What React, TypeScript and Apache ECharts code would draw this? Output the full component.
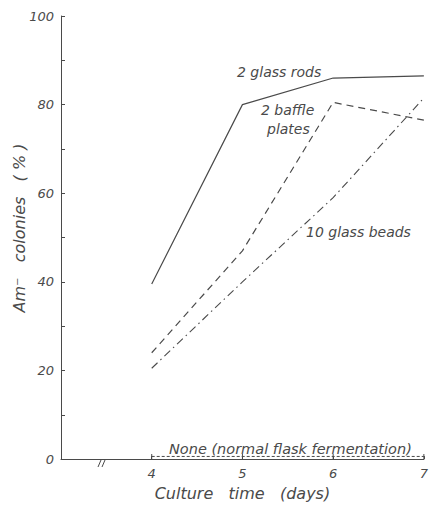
import React, { useEffect, useRef } from "react";
import * as echarts from "echarts";

// Culture time (days)
const days = [4, 5, 6, 7];
// Am- colonies (%) for each agitation device
const glassRods = [39.5, 80, 86, 86.5];
const bafflePlates = [24, 47, 80.5, 76.5];
const glassBeads = [20.5, 40, 59, 81.5];
const noneNormal = [0.6, 0.6, 0.6, 0.6];

const yTicks = [0, 20, 40, 60, 80, 100];

const INK = "#4a4a4a";
const FONT = "DejaVu Sans";

const pairs = (ys: number[]) => days.map((d, i) => [d, ys[i]]);

export default function App() {
  const ref = useRef<HTMLDivElement>(null);

  useEffect(() => {
    if (!ref.current) return;
    const chart = echarts.init(ref.current, null, { renderer: "svg" });

    const textStyle = {
      fontFamily: FONT,
      fontStyle: "italic" as const,
      fontSize: 14,
      fill: INK,
    };

    chart.setOption({
      animation: false,
      backgroundColor: "#ffffff",
      grid: { left: 61, right: 4, top: 16, bottom: 42, containLabel: false },
      xAxis: {
        type: "value",
        min: 3,
        max: 7,
        interval: 1,
        name: "Culture   time   (days)",
        nameLocation: "middle",
        nameGap: 24,
        nameTextStyle: {
          fontFamily: FONT,
          fontStyle: "italic",
          fontSize: 16,
          color: INK,
        },
        axisLine: { show: true, lineStyle: { color: INK, width: 1 } },
        axisTick: { show: true, inside: true, length: 3, lineStyle: { color: INK } },
        axisLabel: {
          show: true,
          margin: 8,
          fontFamily: FONT,
          fontStyle: "italic",
          fontSize: 13,
          color: INK,
          formatter: (v: number) => (days.includes(v) ? String(v) : ""),
        },
        splitLine: { show: false },
      },
      yAxis: {
        type: "value",
        min: 0,
        max: 100,
        interval: 20,
        axisLine: { show: true, lineStyle: { color: INK, width: 1 } },
        axisTick: { show: true, inside: true, length: 4, lineStyle: { color: INK } },
        minorTick: { show: true, splitNumber: 2, length: 4, lineStyle: { color: INK } },
        axisLabel: {
          show: true,
          margin: 7,
          fontFamily: FONT,
          fontStyle: "italic",
          fontSize: 13,
          color: INK,
          formatter: (v: number) => (yTicks.includes(v) ? String(v) : ""),
        },
        splitLine: { show: false },
      },
      series: [
        {
          name: "2 glass rods",
          type: "line",
          data: pairs(glassRods),
          symbol: "none",
          lineStyle: { color: INK, width: 1.2, type: "solid" },
        },
        {
          name: "2 baffle plates",
          type: "line",
          data: pairs(bafflePlates),
          symbol: "none",
          lineStyle: { color: INK, width: 1.2, type: [7, 5] },
        },
        {
          name: "10 glass beads",
          type: "line",
          data: pairs(glassBeads),
          symbol: "none",
          lineStyle: { color: INK, width: 1.1, type: [8, 4, 1.5, 4] },
        },
        {
          name: "None (normal flask fermentation)",
          type: "line",
          data: pairs(noneNormal),
          symbol: "rect",
          symbolSize: [1, 5],
          itemStyle: { color: INK },
          lineStyle: { color: INK, width: 1, type: [3, 2] },
        },
      ],
      graphic: [
        // y-axis title
        {
          type: "text",
          x: 19,
          y: 228,
          rotation: Math.PI / 2,
          style: {
            ...textStyle,
            fontSize: 16,
            text: "Am⁻   colonies   ( % )",
            align: "center",
            verticalAlign: "middle",
          },
        },
        // axis break marks
        {
          type: "line",
          shape: { x1: 98, y1: 467, x2: 101, y2: 460 },
          style: { stroke: INK, lineWidth: 1 },
        },
        {
          type: "line",
          shape: { x1: 102, y1: 467, x2: 105, y2: 460 },
          style: { stroke: INK, lineWidth: 1 },
        },
        {
          type: "text",
          left: 237,
          top: 65,
          style: { ...textStyle, text: "2 glass rods" },
        },
        {
          type: "text",
          left: 261,
          top: 103,
          style: { ...textStyle, text: "2 baffle" },
        },
        {
          type: "text",
          left: 267,
          top: 122,
          style: { ...textStyle, text: "plates" },
        },
        {
          type: "text",
          left: 306,
          top: 225,
          style: { ...textStyle, text: "10 glass beads" },
        },
        {
          type: "text",
          left: 169,
          top: 441,
          style: { ...textStyle, fontSize: 14.5, text: "None (normal flask fermentation)" },
        },
      ],
    });

    return () => chart.dispose();
  }, []);

  return (
    <div
      ref={ref}
      style={{ position: "fixed", left: 0, top: 0, width: 431, height: 506 }}
    />
  );
}
